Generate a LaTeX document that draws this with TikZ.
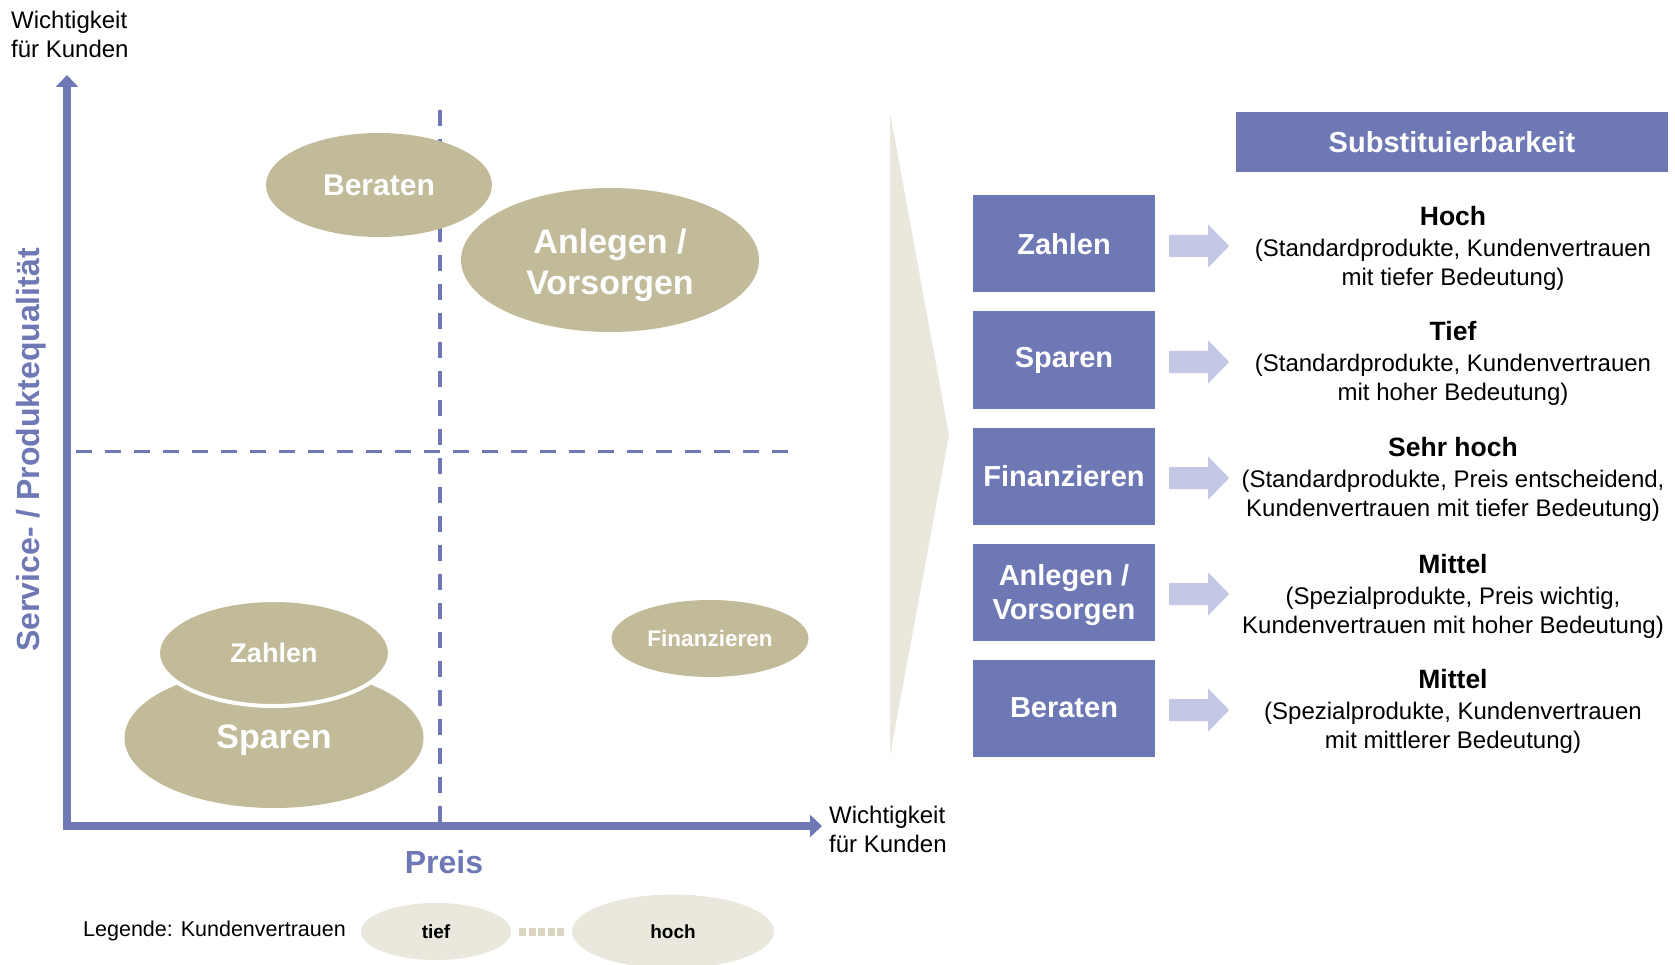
\documentclass[tikz,border=0pt]{standalone}
\usepackage{fontspec}
\setmainfont{Liberation Sans}
\usetikzlibrary{shapes.geometric,arrows.meta}
\definecolor{axisblue}{RGB}{110,120,180}
\definecolor{bubbletan}{RGB}{194,187,153}
\definecolor{wedgegray}{RGB}{234,231,221}
\definecolor{arrowlilac}{RGB}{196,200,228}
\newcommand{\rowtitle}[1]{{\fontsize{26.5}{31}\selectfont\bfseries #1}}

\begin{document}
\begin{tikzpicture}[x=1pt,y=-1pt,
        axis/.style={draw=axisblue,line width=8.5pt,-{Triangle[length=12pt,width=22pt]}},
        quadline/.style={draw=axisblue,line width=3.2pt,dash pattern=on 16pt off 13pt},
        bubble/.style={ellipse,fill=bubbletan,inner sep=0pt,text=white,align=center},
        catbox/.style={rectangle,fill=axisblue,text=white,inner sep=0pt,minimum width=182pt,
            minimum height=97pt,align=center,font=\fontsize{29}{34}\selectfont\bfseries},
        substtext/.style={align=center,inner sep=0pt,font=\fontsize{24}{29}\selectfont},
        legbubble/.style={ellipse,fill=wedgegray,inner sep=0pt,font=\fontsize{19}{23}\selectfont\bfseries}]
        \useasboundingbox (0,0) rectangle (1675,965);

        \draw[quadline] (440,110) -- (440,823);
        \draw[quadline] (76,451.5) -- (794,451.5);
        \draw[axis] (67,830.25) -- (67,75);
        \draw[axis] (62.75,826) -- (822,826);

        \node[anchor=west,inner sep=0pt,align=left,font=\fontsize{24}{29}\selectfont] (ytitle) at (11,34) {Wichtigkeit\\für Kunden};
        \node[anchor=west,inner sep=0pt,align=left,font=\fontsize{24}{29}\selectfont] (xtitle) at (829,829) {Wichtigkeit\\für Kunden};
        \node[rotate=90,inner sep=0pt,text=axisblue,font=\fontsize{32}{38}\selectfont\bfseries] (ylabel) at (31,450) {Service- / Produktequalität};
        \node[inner sep=0pt,text=axisblue,font=\fontsize{32}{38}\selectfont\bfseries] (xlabel) at (444,862) {Preis};

        \node[bubble,minimum width=226pt,minimum height=104pt,font=\fontsize{30}{36}\selectfont\bfseries] (beraten) at (379,185) {Beraten};
        \node[bubble,minimum width=298pt,minimum height=144pt,font=\fontsize{34}{40.5}\selectfont\bfseries] (anlegen) at (610,260) {\rule{0pt}{35pt}Anlegen /\\Vorsorgen};
        \node[bubble,minimum width=299pt,minimum height=140pt,font=\fontsize{34}{40}\selectfont\bfseries,text height=29pt] (sparen) at (274,738) {Sparen};
        \node[bubble,draw=white,line width=4pt,minimum width=232pt,minimum height=106pt,font=\fontsize{27}{32}\selectfont\bfseries] (zahlen) at (274,653) {Zahlen};
        \node[bubble,minimum width=197pt,minimum height=77pt,font=\fontsize{22.5}{27}\selectfont\bfseries] (finanz) at (710,638.5) {Finanzieren};

        \node[anchor=west,inner sep=0pt,font=\fontsize{21.5}{26}\selectfont] (legtext) at (83,931) {Legende: Kundenvertrauen};
        \node[legbubble,minimum width=150pt,minimum height=57pt] (tief) at (436,931.5) {tief};
        \node[legbubble,minimum width=202pt,minimum height=74pt] (hoch) at (673,931.5) {hoch};
        \draw[bubbletan!60,line width=8pt,dash pattern=on 7pt off 2.5pt,shorten <=8pt,shorten >=8pt] (tief.east) -- (hoch.west);

        \fill[wedgegray] (890,112) -- (949,435) -- (890,756) -- cycle;

        \node[rectangle,fill=axisblue,text=white,minimum width=432pt,minimum height=60pt,inner sep=0pt,
            font=\fontsize{29}{34}\selectfont\bfseries] (substhead) at (1452,142) {Substituierbarkeit};

        \node[catbox] (zahlenbox) at (1064,244) {Zahlen};
        \node[catbox] (sparenbox) at (1064,360) {Sparen};
        \node[catbox] (finanzbox) at (1064,476) {Finanzieren};
        \node[catbox] (anlegenbox) at (1064,592) {\rule{0pt}{27pt}Anlegen /\\Vorsorgen};
        \node[catbox] (beratenbox) at (1064,708) {Beraten};

        \node[substtext] (zahlentxt) at (1453,248) {\rowtitle{Hoch}\\[2pt](Standardprodukte, Kundenvertrauen\\mit tiefer Bedeutung)};
        \node[substtext] (sparentxt) at (1453,363) {\rowtitle{Tief}\\[2pt](Standardprodukte, Kundenvertrauen\\mit hoher Bedeutung)};
        \node[substtext] (finanztxt) at (1453,479) {\rowtitle{Sehr hoch}\\[2pt](Standardprodukte, Preis entscheidend,\\Kundenvertrauen mit tiefer Bedeutung)};
        \node[substtext] (anlegentxt) at (1453,596) {\rowtitle{Mittel}\\[2pt](Spezialprodukte, Preis wichtig,\\Kundenvertrauen mit hoher Bedeutung)};
        \node[substtext] (beratentxt) at (1453,711) {\rowtitle{Mittel}\\[2pt](Spezialprodukte, Kundenvertrauen\\mit mittlerer Bedeutung)};

        \foreach \b in {zahlenbox,sparenbox,finanzbox,anlegenbox,beratenbox}
            \fill[arrowlilac,shift={(\b.east)}] (14,-9) -- (53,-9) -- (53,-19.5) -- (74,2) -- (53,23.5) -- (53,13) -- (14,13) -- cycle;
\end{tikzpicture}
\end{document}
